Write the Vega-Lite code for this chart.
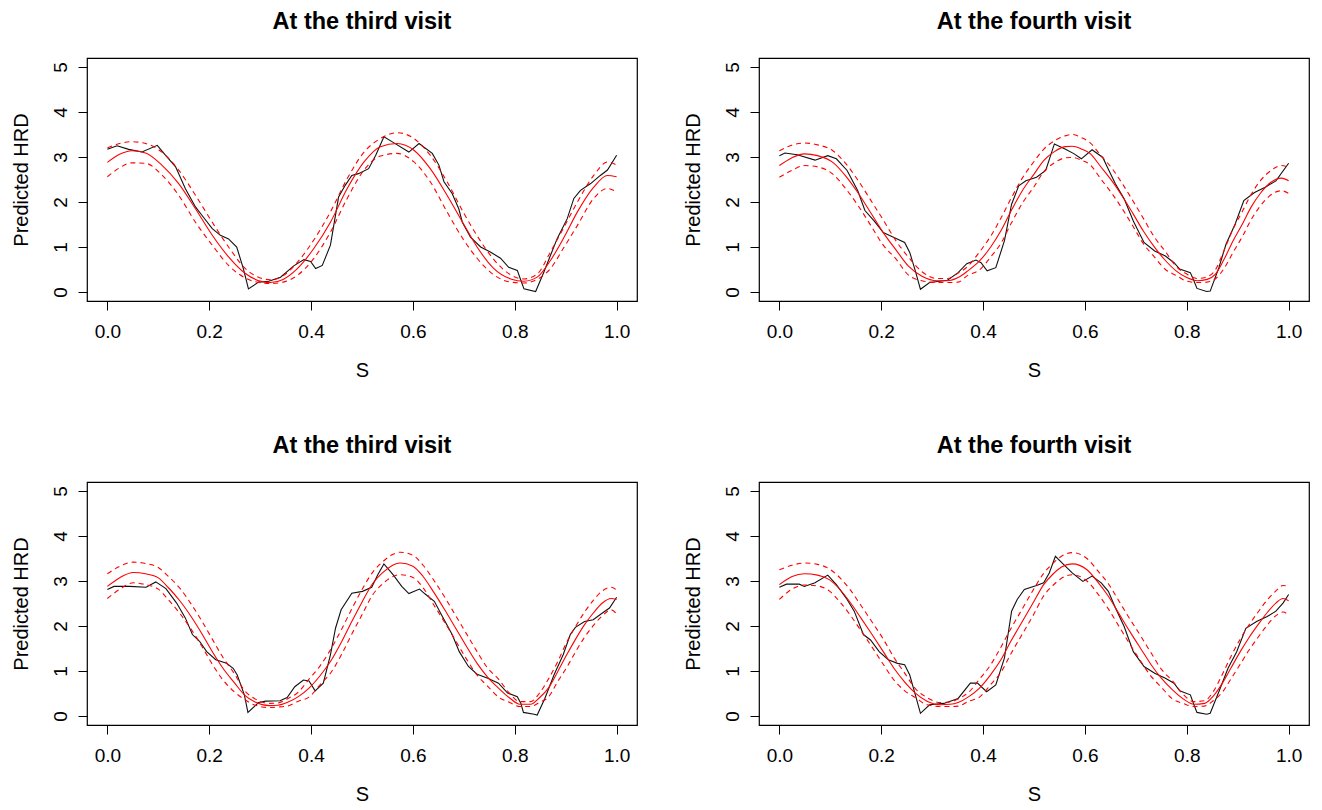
{
  "$schema": "https://vega.github.io/schema/vega-lite/v6.json",
  "autosize": {"type": "pad"},
  "padding": {"left": 10, "top": 8, "right": 13, "bottom": 6},
  "background": "#ffffff",
  "bounds": "flush",
  "columns": 2,
  "spacing": {"row": 181, "column": 122},
  "datasets": {
    "obs1": [
      {"s":0,"v":3.17},{"s":0.019,"v":3.25},{"s":0.042,"v":3.17},{"s":0.068,"v":3.11},{"s":0.098,"v":3.26},{"s":0.114,"v":3.04},{"s":0.134,"v":2.78},{"s":0.153,"v":2.30},{"s":0.173,"v":1.89},{"s":0.186,"v":1.70},{"s":0.206,"v":1.41},{"s":0.222,"v":1.26},{"s":0.238,"v":1.18},{"s":0.254,"v":1.00},{"s":0.267,"v":0.52},{"s":0.277,"v":0.07},{"s":0.297,"v":0.22},{"s":0.317,"v":0.24},{"s":0.34,"v":0.33},{"s":0.366,"v":0.58},{"s":0.386,"v":0.72},{"s":0.399,"v":0.68},{"s":0.409,"v":0.52},{"s":0.422,"v":0.59},{"s":0.438,"v":1.04},{"s":0.454,"v":2.11},{"s":0.467,"v":2.37},{"s":0.48,"v":2.59},{"s":0.493,"v":2.63},{"s":0.513,"v":2.74},{"s":0.527,"v":3.04},{"s":0.543,"v":3.45},{"s":0.562,"v":3.32},{"s":0.592,"v":3.11},{"s":0.612,"v":3.30},{"s":0.638,"v":3.08},{"s":0.651,"v":2.82},{"s":0.661,"v":2.45},{"s":0.677,"v":2.19},{"s":0.69,"v":1.85},{"s":0.697,"v":1.55},{"s":0.713,"v":1.22},{"s":0.733,"v":1.00},{"s":0.752,"v":0.89},{"s":0.772,"v":0.75},{"s":0.788,"v":0.55},{"s":0.805,"v":0.48},{"s":0.811,"v":0.29},{"s":0.818,"v":0.07},{"s":0.841,"v":0.01},{"s":0.857,"v":0.44},{"s":0.87,"v":0.81},{"s":0.883,"v":1.18},{"s":0.903,"v":1.63},{"s":0.916,"v":2.08},{"s":0.929,"v":2.26},{"s":0.949,"v":2.41},{"s":0.968,"v":2.59},{"s":0.982,"v":2.71},{"s":1.0,"v":3.04}
    ],
    "fit1": [
      {"s":0,"fit":2.88,"lo":2.56,"hi":3.20},{"s":0.024,"fit":3.06,"lo":2.76,"hi":3.30},{"s":0.048,"fit":3.14,"lo":2.87,"hi":3.34},{"s":0.075,"fit":3.09,"lo":2.86,"hi":3.30},{"s":0.107,"fit":2.82,"lo":2.60,"hi":3.11},{"s":0.14,"fit":2.41,"lo":2.15,"hi":2.71},{"s":0.173,"fit":1.85,"lo":1.55,"hi":2.15},{"s":0.206,"fit":1.26,"lo":1.04,"hi":1.55},{"s":0.238,"fit":0.78,"lo":0.59,"hi":1.00},{"s":0.271,"fit":0.41,"lo":0.31,"hi":0.52},{"s":0.304,"fit":0.23,"lo":0.20,"hi":0.30},{"s":0.32,"fit":0.21,"lo":0.19,"hi":0.27},{"s":0.345,"fit":0.28,"lo":0.22,"hi":0.36},{"s":0.373,"fit":0.52,"lo":0.37,"hi":0.66},{"s":0.405,"fit":0.96,"lo":0.74,"hi":1.15},{"s":0.438,"fit":1.55,"lo":1.33,"hi":1.78},{"s":0.471,"fit":2.30,"lo":2.08,"hi":2.52},{"s":0.504,"fit":2.89,"lo":2.71,"hi":3.11},{"s":0.536,"fit":3.23,"lo":3.02,"hi":3.41},{"s":0.569,"fit":3.30,"lo":3.08,"hi":3.54},{"s":0.602,"fit":3.15,"lo":2.89,"hi":3.41},{"s":0.634,"fit":2.74,"lo":2.45,"hi":3.04},{"s":0.667,"fit":2.15,"lo":1.78,"hi":2.45},{"s":0.70,"fit":1.50,"lo":1.15,"hi":1.75},{"s":0.726,"fit":1.00,"lo":0.75,"hi":1.25},{"s":0.759,"fit":0.52,"lo":0.38,"hi":0.72},{"s":0.792,"fit":0.29,"lo":0.22,"hi":0.38},{"s":0.818,"fit":0.24,"lo":0.20,"hi":0.29},{"s":0.844,"fit":0.33,"lo":0.28,"hi":0.40},{"s":0.87,"fit":0.70,"lo":0.52,"hi":0.89},{"s":0.897,"fit":1.22,"lo":1.00,"hi":1.45},{"s":0.923,"fit":1.78,"lo":1.48,"hi":2.00},{"s":0.955,"fit":2.33,"lo":2.08,"hi":2.59},{"s":0.982,"fit":2.59,"lo":2.30,"hi":2.89},{"s":1.0,"fit":2.56,"lo":2.22,"hi":2.82}
    ],
    "obs2": [
      {"s":0,"v":3.03},{"s":0.011,"v":3.09},{"s":0.035,"v":3.05},{"s":0.07,"v":2.93},{"s":0.095,"v":3.03},{"s":0.112,"v":2.96},{"s":0.133,"v":2.70},{"s":0.154,"v":2.25},{"s":0.168,"v":1.81},{"s":0.186,"v":1.58},{"s":0.204,"v":1.32},{"s":0.225,"v":1.21},{"s":0.246,"v":1.10},{"s":0.256,"v":0.88},{"s":0.267,"v":0.47},{"s":0.277,"v":0.06},{"s":0.295,"v":0.21},{"s":0.33,"v":0.26},{"s":0.351,"v":0.43},{"s":0.368,"v":0.63},{"s":0.386,"v":0.71},{"s":0.396,"v":0.65},{"s":0.408,"v":0.47},{"s":0.425,"v":0.54},{"s":0.442,"v":1.14},{"s":0.456,"v":1.95},{"s":0.47,"v":2.36},{"s":0.484,"v":2.47},{"s":0.505,"v":2.55},{"s":0.523,"v":2.70},{"s":0.54,"v":3.29},{"s":0.561,"v":3.18},{"s":0.579,"v":3.07},{"s":0.593,"v":2.96},{"s":0.614,"v":3.16},{"s":0.635,"v":2.99},{"s":0.646,"v":2.73},{"s":0.66,"v":2.40},{"s":0.677,"v":2.07},{"s":0.695,"v":1.58},{"s":0.716,"v":1.10},{"s":0.737,"v":0.91},{"s":0.758,"v":0.80},{"s":0.775,"v":0.65},{"s":0.786,"v":0.51},{"s":0.807,"v":0.43},{"s":0.814,"v":0.25},{"s":0.82,"v":0.08},{"s":0.839,"v":0.01},{"s":0.846,"v":0.02},{"s":0.863,"v":0.54},{"s":0.877,"v":1.06},{"s":0.895,"v":1.51},{"s":0.912,"v":2.03},{"s":0.933,"v":2.21},{"s":0.954,"v":2.33},{"s":0.975,"v":2.47},{"s":1.0,"v":2.86}
    ],
    "fit2": [
      {"s":0,"fit":2.81,"lo":2.55,"hi":3.14},{"s":0.024,"fit":2.98,"lo":2.70,"hi":3.26},{"s":0.049,"fit":3.07,"lo":2.81,"hi":3.31},{"s":0.075,"fit":3.03,"lo":2.78,"hi":3.27},{"s":0.105,"fit":2.88,"lo":2.62,"hi":3.14},{"s":0.13,"fit":2.58,"lo":2.30,"hi":2.86},{"s":0.154,"fit":2.21,"lo":1.93,"hi":2.49},{"s":0.18,"fit":1.75,"lo":1.47,"hi":2.03},{"s":0.204,"fit":1.32,"lo":1.04,"hi":1.60},{"s":0.23,"fit":0.92,"lo":0.72,"hi":1.12},{"s":0.253,"fit":0.58,"lo":0.38,"hi":0.78},{"s":0.28,"fit":0.35,"lo":0.25,"hi":0.45},{"s":0.31,"fit":0.25,"lo":0.21,"hi":0.30},{"s":0.33,"fit":0.25,"lo":0.21,"hi":0.30},{"s":0.351,"fit":0.32,"lo":0.22,"hi":0.42},{"s":0.37,"fit":0.47,"lo":0.37,"hi":0.57},{"s":0.393,"fit":0.69,"lo":0.49,"hi":0.89},{"s":0.415,"fit":1.00,"lo":0.78,"hi":1.24},{"s":0.435,"fit":1.36,"lo":1.08,"hi":1.64},{"s":0.455,"fit":1.80,"lo":1.52,"hi":2.08},{"s":0.477,"fit":2.25,"lo":1.97,"hi":2.53},{"s":0.50,"fit":2.62,"lo":2.34,"hi":2.90},{"s":0.519,"fit":2.92,"lo":2.67,"hi":3.17},{"s":0.54,"fit":3.12,"lo":2.87,"hi":3.36},{"s":0.561,"fit":3.23,"lo":2.98,"hi":3.47},{"s":0.575,"fit":3.24,"lo":2.99,"hi":3.50},{"s":0.593,"fit":3.18,"lo":2.93,"hi":3.43},{"s":0.611,"fit":3.07,"lo":2.82,"hi":3.31},{"s":0.63,"fit":2.80,"lo":2.53,"hi":3.05},{"s":0.653,"fit":2.47,"lo":2.19,"hi":2.75},{"s":0.675,"fit":2.10,"lo":1.82,"hi":2.38},{"s":0.695,"fit":1.73,"lo":1.45,"hi":2.01},{"s":0.715,"fit":1.35,"lo":1.07,"hi":1.63},{"s":0.737,"fit":0.99,"lo":0.77,"hi":1.21},{"s":0.758,"fit":0.70,"lo":0.50,"hi":0.90},{"s":0.779,"fit":0.47,"lo":0.37,"hi":0.57},{"s":0.80,"fit":0.32,"lo":0.24,"hi":0.40},{"s":0.821,"fit":0.25,"lo":0.21,"hi":0.30},{"s":0.84,"fit":0.28,"lo":0.22,"hi":0.34},{"s":0.856,"fit":0.39,"lo":0.29,"hi":0.49},{"s":0.873,"fit":0.72,"lo":0.52,"hi":0.92},{"s":0.891,"fit":1.14,"lo":0.88,"hi":1.40},{"s":0.91,"fit":1.53,"lo":1.25,"hi":1.81},{"s":0.926,"fit":1.88,"lo":1.60,"hi":2.16},{"s":0.945,"fit":2.20,"lo":1.92,"hi":2.48},{"s":0.961,"fit":2.40,"lo":2.12,"hi":2.66},{"s":0.986,"fit":2.53,"lo":2.25,"hi":2.81},{"s":1.0,"fit":2.47,"lo":2.19,"hi":2.77}
    ],
    "obs3": [
      {"s":0,"v":2.81},{"s":0.013,"v":2.88},{"s":0.044,"v":2.88},{"s":0.076,"v":2.86},{"s":0.095,"v":2.98},{"s":0.115,"v":2.83},{"s":0.136,"v":2.51},{"s":0.153,"v":2.18},{"s":0.167,"v":1.81},{"s":0.181,"v":1.66},{"s":0.195,"v":1.43},{"s":0.213,"v":1.25},{"s":0.234,"v":1.17},{"s":0.247,"v":1.06},{"s":0.255,"v":0.91},{"s":0.269,"v":0.47},{"s":0.276,"v":0.08},{"s":0.297,"v":0.30},{"s":0.311,"v":0.33},{"s":0.339,"v":0.34},{"s":0.353,"v":0.41},{"s":0.368,"v":0.65},{"s":0.385,"v":0.80},{"s":0.396,"v":0.78},{"s":0.408,"v":0.56},{"s":0.424,"v":0.73},{"s":0.438,"v":1.36},{"s":0.448,"v":1.95},{"s":0.459,"v":2.36},{"s":0.48,"v":2.73},{"s":0.501,"v":2.77},{"s":0.519,"v":2.86},{"s":0.531,"v":3.14},{"s":0.543,"v":3.38},{"s":0.561,"v":3.14},{"s":0.578,"v":2.88},{"s":0.592,"v":2.72},{"s":0.613,"v":2.82},{"s":0.624,"v":2.71},{"s":0.642,"v":2.55},{"s":0.656,"v":2.25},{"s":0.677,"v":1.81},{"s":0.691,"v":1.43},{"s":0.709,"v":1.10},{"s":0.726,"v":0.93},{"s":0.747,"v":0.84},{"s":0.768,"v":0.73},{"s":0.786,"v":0.51},{"s":0.805,"v":0.43},{"s":0.812,"v":0.28},{"s":0.817,"v":0.08},{"s":0.838,"v":0.04},{"s":0.844,"v":0.02},{"s":0.859,"v":0.39},{"s":0.877,"v":0.91},{"s":0.895,"v":1.36},{"s":0.909,"v":1.81},{"s":0.919,"v":1.97},{"s":0.937,"v":2.10},{"s":0.954,"v":2.14},{"s":0.972,"v":2.29},{"s":0.986,"v":2.40},{"s":1.0,"v":2.64}
    ],
    "fit3": [
      {"s":0,"fit":2.88,"lo":2.61,"hi":3.16},{"s":0.025,"fit":3.08,"lo":2.82,"hi":3.33},{"s":0.051,"fit":3.19,"lo":2.96,"hi":3.42},{"s":0.075,"fit":3.16,"lo":2.92,"hi":3.39},{"s":0.10,"fit":3.07,"lo":2.82,"hi":3.30},{"s":0.12,"fit":2.85,"lo":2.58,"hi":3.10},{"s":0.143,"fit":2.55,"lo":2.27,"hi":2.83},{"s":0.165,"fit":2.20,"lo":1.92,"hi":2.48},{"s":0.185,"fit":1.84,"lo":1.56,"hi":2.12},{"s":0.205,"fit":1.45,"lo":1.17,"hi":1.73},{"s":0.227,"fit":1.06,"lo":0.80,"hi":1.30},{"s":0.25,"fit":0.73,"lo":0.53,"hi":0.93},{"s":0.269,"fit":0.47,"lo":0.37,"hi":0.57},{"s":0.29,"fit":0.31,"lo":0.24,"hi":0.38},{"s":0.318,"fit":0.23,"lo":0.19,"hi":0.28},{"s":0.335,"fit":0.24,"lo":0.20,"hi":0.29},{"s":0.353,"fit":0.30,"lo":0.22,"hi":0.38},{"s":0.375,"fit":0.43,"lo":0.33,"hi":0.53},{"s":0.396,"fit":0.62,"lo":0.42,"hi":0.82},{"s":0.418,"fit":0.90,"lo":0.70,"hi":1.12},{"s":0.438,"fit":1.21,"lo":0.95,"hi":1.47},{"s":0.46,"fit":1.65,"lo":1.37,"hi":1.93},{"s":0.48,"fit":2.10,"lo":1.82,"hi":2.38},{"s":0.50,"fit":2.53,"lo":2.25,"hi":2.81},{"s":0.522,"fit":2.96,"lo":2.71,"hi":3.21},{"s":0.54,"fit":3.18,"lo":2.93,"hi":3.42},{"s":0.557,"fit":3.33,"lo":3.08,"hi":3.57},{"s":0.575,"fit":3.40,"lo":3.14,"hi":3.64},{"s":0.60,"fit":3.33,"lo":3.08,"hi":3.57},{"s":0.62,"fit":3.10,"lo":2.85,"hi":3.35},{"s":0.642,"fit":2.73,"lo":2.45,"hi":3.00},{"s":0.663,"fit":2.35,"lo":2.07,"hi":2.63},{"s":0.684,"fit":1.95,"lo":1.67,"hi":2.23},{"s":0.705,"fit":1.55,"lo":1.27,"hi":1.83},{"s":0.726,"fit":1.17,"lo":0.91,"hi":1.43},{"s":0.747,"fit":0.86,"lo":0.66,"hi":1.06},{"s":0.768,"fit":0.62,"lo":0.42,"hi":0.82},{"s":0.79,"fit":0.40,"lo":0.30,"hi":0.50},{"s":0.81,"fit":0.26,"lo":0.21,"hi":0.32},{"s":0.831,"fit":0.26,"lo":0.21,"hi":0.32},{"s":0.848,"fit":0.40,"lo":0.30,"hi":0.50},{"s":0.866,"fit":0.62,"lo":0.42,"hi":0.82},{"s":0.884,"fit":0.98,"lo":0.76,"hi":1.20},{"s":0.902,"fit":1.36,"lo":1.08,"hi":1.64},{"s":0.92,"fit":1.72,"lo":1.44,"hi":2.00},{"s":0.937,"fit":2.03,"lo":1.75,"hi":2.31},{"s":0.955,"fit":2.30,"lo":2.02,"hi":2.58},{"s":0.972,"fit":2.51,"lo":2.23,"hi":2.78},{"s":0.989,"fit":2.61,"lo":2.36,"hi":2.86},{"s":1.0,"fit":2.59,"lo":2.27,"hi":2.80}
    ],
    "obs4": [
      {"s":0,"v":2.86},{"s":0.014,"v":2.93},{"s":0.039,"v":2.93},{"s":0.049,"v":2.88},{"s":0.07,"v":2.96},{"s":0.095,"v":3.13},{"s":0.112,"v":2.92},{"s":0.133,"v":2.59},{"s":0.147,"v":2.33},{"s":0.165,"v":1.81},{"s":0.179,"v":1.69},{"s":0.196,"v":1.43},{"s":0.214,"v":1.25},{"s":0.232,"v":1.17},{"s":0.246,"v":1.14},{"s":0.256,"v":0.91},{"s":0.267,"v":0.47},{"s":0.277,"v":0.06},{"s":0.295,"v":0.25},{"s":0.323,"v":0.28},{"s":0.351,"v":0.39},{"s":0.375,"v":0.73},{"s":0.389,"v":0.73},{"s":0.407,"v":0.54},{"s":0.425,"v":0.69},{"s":0.442,"v":1.29},{"s":0.456,"v":2.33},{"s":0.467,"v":2.59},{"s":0.481,"v":2.81},{"s":0.505,"v":2.90},{"s":0.519,"v":2.96},{"s":0.53,"v":3.18},{"s":0.542,"v":3.55},{"s":0.558,"v":3.37},{"s":0.575,"v":3.18},{"s":0.596,"v":2.99},{"s":0.614,"v":3.11},{"s":0.632,"v":2.96},{"s":0.646,"v":2.77},{"s":0.66,"v":2.40},{"s":0.677,"v":1.99},{"s":0.695,"v":1.43},{"s":0.716,"v":1.10},{"s":0.737,"v":0.95},{"s":0.758,"v":0.84},{"s":0.775,"v":0.73},{"s":0.786,"v":0.56},{"s":0.807,"v":0.47},{"s":0.814,"v":0.25},{"s":0.82,"v":0.08},{"s":0.839,"v":0.04},{"s":0.846,"v":0.06},{"s":0.863,"v":0.54},{"s":0.881,"v":1.06},{"s":0.898,"v":1.43},{"s":0.916,"v":1.95},{"s":0.937,"v":2.10},{"s":0.958,"v":2.21},{"s":0.975,"v":2.33},{"s":0.989,"v":2.51},{"s":1.0,"v":2.70}
    ],
    "fit4": [
      {"s":0,"fit":2.92,"lo":2.59,"hi":3.25},{"s":0.025,"fit":3.10,"lo":2.82,"hi":3.35},{"s":0.049,"fit":3.16,"lo":2.91,"hi":3.40},{"s":0.075,"fit":3.13,"lo":2.89,"hi":3.37},{"s":0.098,"fit":3.03,"lo":2.78,"hi":3.27},{"s":0.12,"fit":2.80,"lo":2.52,"hi":3.06},{"s":0.14,"fit":2.51,"lo":2.23,"hi":2.79},{"s":0.16,"fit":2.18,"lo":1.90,"hi":2.46},{"s":0.182,"fit":1.81,"lo":1.53,"hi":2.09},{"s":0.204,"fit":1.43,"lo":1.15,"hi":1.71},{"s":0.225,"fit":1.06,"lo":0.80,"hi":1.30},{"s":0.245,"fit":0.77,"lo":0.57,"hi":0.97},{"s":0.267,"fit":0.51,"lo":0.41,"hi":0.61},{"s":0.29,"fit":0.33,"lo":0.25,"hi":0.41},{"s":0.316,"fit":0.25,"lo":0.21,"hi":0.30},{"s":0.335,"fit":0.26,"lo":0.21,"hi":0.31},{"s":0.351,"fit":0.30,"lo":0.22,"hi":0.38},{"s":0.372,"fit":0.43,"lo":0.33,"hi":0.53},{"s":0.393,"fit":0.62,"lo":0.42,"hi":0.82},{"s":0.415,"fit":0.92,"lo":0.70,"hi":1.14},{"s":0.435,"fit":1.25,"lo":0.97,"hi":1.53},{"s":0.455,"fit":1.67,"lo":1.39,"hi":1.95},{"s":0.477,"fit":2.10,"lo":1.82,"hi":2.38},{"s":0.50,"fit":2.55,"lo":2.27,"hi":2.83},{"s":0.519,"fit":2.92,"lo":2.67,"hi":3.17},{"s":0.537,"fit":3.15,"lo":2.90,"hi":3.39},{"s":0.554,"fit":3.31,"lo":3.06,"hi":3.55},{"s":0.575,"fit":3.38,"lo":3.14,"hi":3.63},{"s":0.604,"fit":3.25,"lo":3.00,"hi":3.50},{"s":0.625,"fit":2.98,"lo":2.72,"hi":3.23},{"s":0.646,"fit":2.66,"lo":2.38,"hi":2.94},{"s":0.667,"fit":2.27,"lo":1.99,"hi":2.55},{"s":0.688,"fit":1.88,"lo":1.60,"hi":2.16},{"s":0.71,"fit":1.49,"lo":1.21,"hi":1.77},{"s":0.73,"fit":1.14,"lo":0.88,"hi":1.40},{"s":0.75,"fit":0.84,"lo":0.64,"hi":1.04},{"s":0.772,"fit":0.58,"lo":0.38,"hi":0.78},{"s":0.793,"fit":0.38,"lo":0.28,"hi":0.48},{"s":0.814,"fit":0.26,"lo":0.21,"hi":0.32},{"s":0.835,"fit":0.28,"lo":0.22,"hi":0.34},{"s":0.852,"fit":0.44,"lo":0.34,"hi":0.54},{"s":0.87,"fit":0.73,"lo":0.53,"hi":0.93},{"s":0.887,"fit":1.07,"lo":0.83,"hi":1.33},{"s":0.905,"fit":1.43,"lo":1.15,"hi":1.71},{"s":0.922,"fit":1.74,"lo":1.46,"hi":2.02},{"s":0.94,"fit":2.03,"lo":1.75,"hi":2.31},{"s":0.958,"fit":2.30,"lo":2.02,"hi":2.58},{"s":0.975,"fit":2.51,"lo":2.23,"hi":2.78},{"s":0.989,"fit":2.61,"lo":2.31,"hi":2.90},{"s":1.0,"fit":2.56,"lo":2.24,"hi":2.88}
    ]
  },
  "concat": [
    {
      "title": "At the third visit",
      "width": 550, "height": 243,
      "encoding": {
        "x": {"field": "s", "type": "quantitative", "title": "S", "scale": {"domain": [-0.04, 1.04], "nice": false, "zero": false}, "axis": {"values": [0, 0.2, 0.4, 0.6, 0.8, 1.0], "format": ".1f"}},
        "y": {"field": "v", "type": "quantitative", "title": "Predicted HRD", "scale": {"domain": [-0.2, 5.2], "nice": false, "zero": false}, "axis": {"values": [0, 1, 2, 3, 4, 5]}}
      },
      "layer": [
        {"data": {"name": "obs1"}, "mark": {"type": "line", "color": "#111111", "strokeWidth": 1.1}, "encoding": {}},
        {"data": {"name": "fit1"}, "transform": [{"fold": ["lo", "hi"], "as": ["k", "v"]}], "mark": {"type": "line", "color": "#ff0000", "strokeWidth": 1.1, "strokeDash": [5, 4], "interpolate": "monotone"}, "encoding": {"detail": {"field": "k"}}},
        {"data": {"name": "fit1"}, "transform": [{"fold": ["fit"], "as": ["k", "v"]}], "mark": {"type": "line", "color": "#ff0000", "strokeWidth": 1.1, "interpolate": "monotone"}, "encoding": {}}
      ]
    },
    {
      "title": "At the fourth visit",
      "width": 550, "height": 243,
      "encoding": {
        "x": {"field": "s", "type": "quantitative", "title": "S", "scale": {"domain": [-0.04, 1.04], "nice": false, "zero": false}, "axis": {"values": [0, 0.2, 0.4, 0.6, 0.8, 1.0], "format": ".1f"}},
        "y": {"field": "v", "type": "quantitative", "title": "Predicted HRD", "scale": {"domain": [-0.2, 5.2], "nice": false, "zero": false}, "axis": {"values": [0, 1, 2, 3, 4, 5]}}
      },
      "layer": [
        {"data": {"name": "obs2"}, "mark": {"type": "line", "color": "#111111", "strokeWidth": 1.1}, "encoding": {}},
        {"data": {"name": "fit2"}, "transform": [{"fold": ["lo", "hi"], "as": ["k", "v"]}], "mark": {"type": "line", "color": "#ff0000", "strokeWidth": 1.1, "strokeDash": [5, 4], "interpolate": "monotone"}, "encoding": {"detail": {"field": "k"}}},
        {"data": {"name": "fit2"}, "transform": [{"fold": ["fit"], "as": ["k", "v"]}], "mark": {"type": "line", "color": "#ff0000", "strokeWidth": 1.1, "interpolate": "monotone"}, "encoding": {}}
      ]
    },
    {
      "title": "At the third visit",
      "width": 550, "height": 243,
      "encoding": {
        "x": {"field": "s", "type": "quantitative", "title": "S", "scale": {"domain": [-0.04, 1.04], "nice": false, "zero": false}, "axis": {"values": [0, 0.2, 0.4, 0.6, 0.8, 1.0], "format": ".1f"}},
        "y": {"field": "v", "type": "quantitative", "title": "Predicted HRD", "scale": {"domain": [-0.2, 5.2], "nice": false, "zero": false}, "axis": {"values": [0, 1, 2, 3, 4, 5]}}
      },
      "layer": [
        {"data": {"name": "obs3"}, "mark": {"type": "line", "color": "#111111", "strokeWidth": 1.1}, "encoding": {}},
        {"data": {"name": "fit3"}, "transform": [{"fold": ["lo", "hi"], "as": ["k", "v"]}], "mark": {"type": "line", "color": "#ff0000", "strokeWidth": 1.1, "strokeDash": [5, 4], "interpolate": "monotone"}, "encoding": {"detail": {"field": "k"}}},
        {"data": {"name": "fit3"}, "transform": [{"fold": ["fit"], "as": ["k", "v"]}], "mark": {"type": "line", "color": "#ff0000", "strokeWidth": 1.1, "interpolate": "monotone"}, "encoding": {}}
      ]
    },
    {
      "title": "At the fourth visit",
      "width": 550, "height": 243,
      "encoding": {
        "x": {"field": "s", "type": "quantitative", "title": "S", "scale": {"domain": [-0.04, 1.04], "nice": false, "zero": false}, "axis": {"values": [0, 0.2, 0.4, 0.6, 0.8, 1.0], "format": ".1f"}},
        "y": {"field": "v", "type": "quantitative", "title": "Predicted HRD", "scale": {"domain": [-0.2, 5.2], "nice": false, "zero": false}, "axis": {"values": [0, 1, 2, 3, 4, 5]}}
      },
      "layer": [
        {"data": {"name": "obs4"}, "mark": {"type": "line", "color": "#111111", "strokeWidth": 1.1}, "encoding": {}},
        {"data": {"name": "fit4"}, "transform": [{"fold": ["lo", "hi"], "as": ["k", "v"]}], "mark": {"type": "line", "color": "#ff0000", "strokeWidth": 1.1, "strokeDash": [5, 4], "interpolate": "monotone"}, "encoding": {"detail": {"field": "k"}}},
        {"data": {"name": "fit4"}, "transform": [{"fold": ["fit"], "as": ["k", "v"]}], "mark": {"type": "line", "color": "#ff0000", "strokeWidth": 1.1, "interpolate": "monotone"}, "encoding": {}}
      ]
    }
  ],
  "config": {
    "font": "Liberation Sans",
    "view": {"stroke": "#000000", "strokeWidth": 1.2},
    "axis": {"domain": false, "grid": false, "ticks": true, "tickColor": "#000000", "tickSize": 9, "tickWidth": 1, "labelFont": "Liberation Sans", "labelFontSize": 19, "labelColor": "#000000", "titleFont": "Liberation Sans", "titleFontSize": 20, "titleFontWeight": "normal", "titleColor": "#000000"},
    "axisX": {"labelPadding": 12, "labelAlign": "center", "labelBaseline": "top", "titleBaseline": "alphabetic", "titleAlign": "center", "titleX": 275, "titleY": 75},
    "axisY": {"labelAngle": -90, "labelAlign": "center", "labelBaseline": "alphabetic", "labelPadding": 12, "titleAngle": -90, "titleBaseline": "alphabetic", "titleAlign": "center", "titleX": -60, "titleY": 121.5},
    "title": {"font": "Liberation Sans", "fontSize": 23.5, "fontWeight": "bold", "color": "#000000", "anchor": "middle", "frame": "group", "baseline": "alphabetic", "offset": 25}
  }
}
